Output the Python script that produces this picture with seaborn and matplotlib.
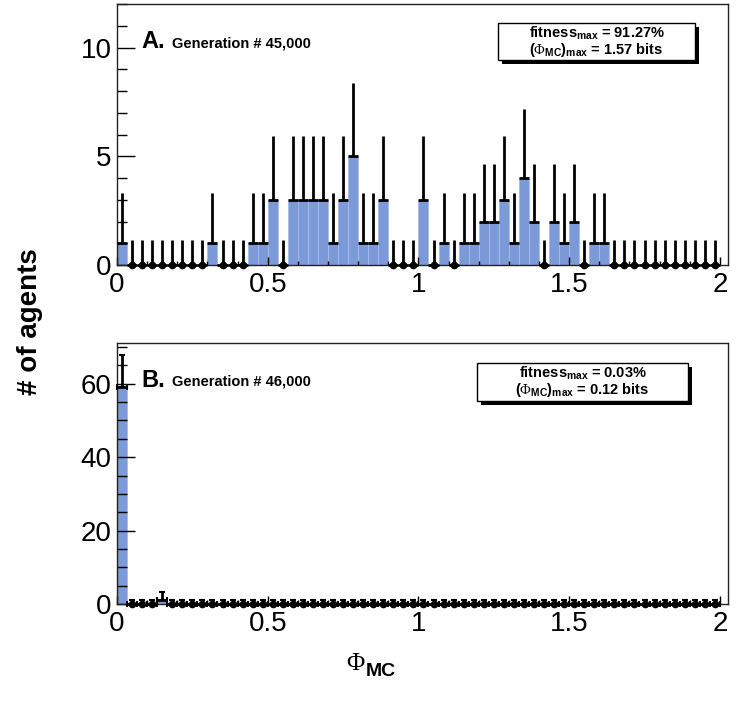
import numpy as np
import pandas as pd
import matplotlib
matplotlib.use('Agg')
import matplotlib.pyplot as plt
import seaborn as sns
from matplotlib.patches import Rectangle
from matplotlib.ticker import MultipleLocator

plt.rcParams['font.family'] = ['Liberation Sans', 'DejaVu Sans']
plt.rcParams['mathtext.fontset'] = 'custom'
plt.rcParams['mathtext.rm'] = 'Liberation Serif'
plt.rcParams['mathtext.bf'] = 'Liberation Sans:bold'
plt.rcParams['mathtext.it'] = 'Liberation Serif:italic'

# 60 bins between 0 and 2 bits
n_bins = 60
bin_range = (0, 2)

counts_a = [1, 0, 0, 0, 0, 0, 0, 0, 0, 1,
            0, 0, 0, 1, 1, 3, 0, 3, 3, 3,
            3, 1, 3, 5, 1, 1, 3, 0, 0, 0,
            3, 0, 1, 0, 1, 1, 2, 2, 3, 1,
            4, 2, 0, 2, 1, 2, 0, 1, 1, 0,
            0, 0, 0, 0, 0, 0, 0, 0, 0, 0]
counts_b = [59, 0, 0, 0, 1] + [0] * 55

# length of the upper error bar for each bin count
upper_err = {0: 1.15, 1: 2.30, 2: 2.64, 3: 2.92, 4: 3.16, 5: 3.38, 59: 8.70}

x_ticks = [0, 0.5, 1, 1.5, 2]
x_tick_labels = ['0', '0.5', '1', '1.5', '2']
y_ticks_a = [0, 5, 10]
y_ticks_b = [0, 20, 40, 60]

panel_a = ['A.', 'Generation # 45,000', '91.27%', '1.57 bits']
panel_b = ['B.', 'Generation # 46,000', '0.03%', '0.12 bits']

bar_color = '#7b9ad7'
W, H = 740, 717

fig = plt.figure(figsize=(W / 100, H / 100), dpi=100)


def px(x, y):
    return x / W, 1 - y / H


def draw_panel(top, counts, ymax, yticks, yminor, labels, box, caps):
    ax = fig.add_axes([117 / W, 1 - (top + 261) / H, 611 / W, 261 / H])
    edges = np.linspace(bin_range[0], bin_range[1], n_bins + 1)
    centers = (edges[:-1] + edges[1:]) / 2
    df = pd.DataFrame({'phi': centers, 'n': counts})
    sns.histplot(data=df, x='phi', weights='n', bins=n_bins,
                 binrange=bin_range, ax=ax, color=bar_color, alpha=1,
                 edgecolor='#a9bce8', linewidth=0.6)
    up = [upper_err[c] for c in counts]
    ax.errorbar(df['phi'], df['n'], xerr=(edges[1] - edges[0]) / 2,
                yerr=[np.zeros(len(counts)), up], fmt='none', ecolor='black',
                elinewidth=2, capsize=caps, capthick=1.5, zorder=4,
                clip_on=False)
    empty = df[df['n'] == 0]
    ax.plot(empty['phi'], empty['n'], 'o', color='black', ms=4.5, zorder=5,
            clip_on=False)
    ax.set_xlim(0, 2.027)
    ax.set_ylim(0, ymax)
    ax.set_xlabel('')
    ax.set_ylabel('')
    ax.set_xticks(x_ticks)
    ax.set_xticklabels(x_tick_labels)
    ax.set_yticks(yticks)
    ax.set_yticklabels([str(t) for t in yticks])
    ax.xaxis.set_minor_locator(MultipleLocator(0.1))
    ax.yaxis.set_minor_locator(MultipleLocator(yminor))
    ax.tick_params(axis='both', which='both', direction='in', labelsize=20,
                   top=False, right=False, width=1)
    ax.tick_params(axis='y', which='major', length=13, pad=4)
    ax.tick_params(axis='y', which='minor', length=7)
    ax.tick_params(axis='x', which='major', length=6, pad=5)
    ax.tick_params(axis='x', which='minor', length=3)
    for s in ax.spines.values():
        s.set_linewidth(1)
        s.set_color('#222222')

    # panel letter and generation
    fig.text(*px(141, top + 44), labels[0], fontsize=17, fontweight='bold',
             va='baseline')
    fig.text(*px(172, top + 43), labels[1], fontsize=10.5, fontweight='bold',
             va='baseline')

    # info box with shadow
    x0, y0, x1, y1 = box
    bx, by = px(x0, y1)
    bw, bh = (x1 - x0) / W, (y1 - y0) / H
    fig.patches.append(Rectangle((bx + 4 / W, by - 4 / H), bw, bh,
                                 transform=fig.transFigure, facecolor='black',
                                 edgecolor='none', zorder=5))
    fig.patches.append(Rectangle((bx, by), bw, bh, transform=fig.transFigure,
                                 facecolor='white', edgecolor='black',
                                 linewidth=1, zorder=6))
    cx = (x0 + x1) / 2
    t1 = r'fitness$_{\mathbf{max}}$ = ' + labels[2]
    t2 = r'($\mathrm{\Phi}_{\mathbf{MC}}$)$_{\mathbf{max}}$ = ' + labels[3]
    fig.text(*px(cx, y0 + 10), t1, fontsize=10.5, fontweight='bold',
             ha='center', va='center', zorder=7)
    fig.text(*px(cx, y0 + 27), t2, fontsize=10.5, fontweight='bold',
             ha='center', va='center', zorder=7)
    return ax


ax_a = draw_panel(4, counts_a, 12, y_ticks_a, 1, panel_a,
                  (498, 23, 695, 60), 0)
ax_b = draw_panel(343, counts_b, 71.1, y_ticks_b, 5, panel_b,
                  (477, 363, 688, 401), 2)

fig.text(*px(30, 322), '# of agents', rotation=90, fontsize=20,
         fontweight='bold', ha='center', va='center')
fig.text(*px(346, 670), r'$\mathrm{\Phi}$', fontsize=18, ha='left',
         va='baseline')
fig.text(*px(366, 676), 'MC', fontsize=14, fontweight='bold', ha='left',
         va='baseline')

fig.savefig('out.png', dpi=100)
